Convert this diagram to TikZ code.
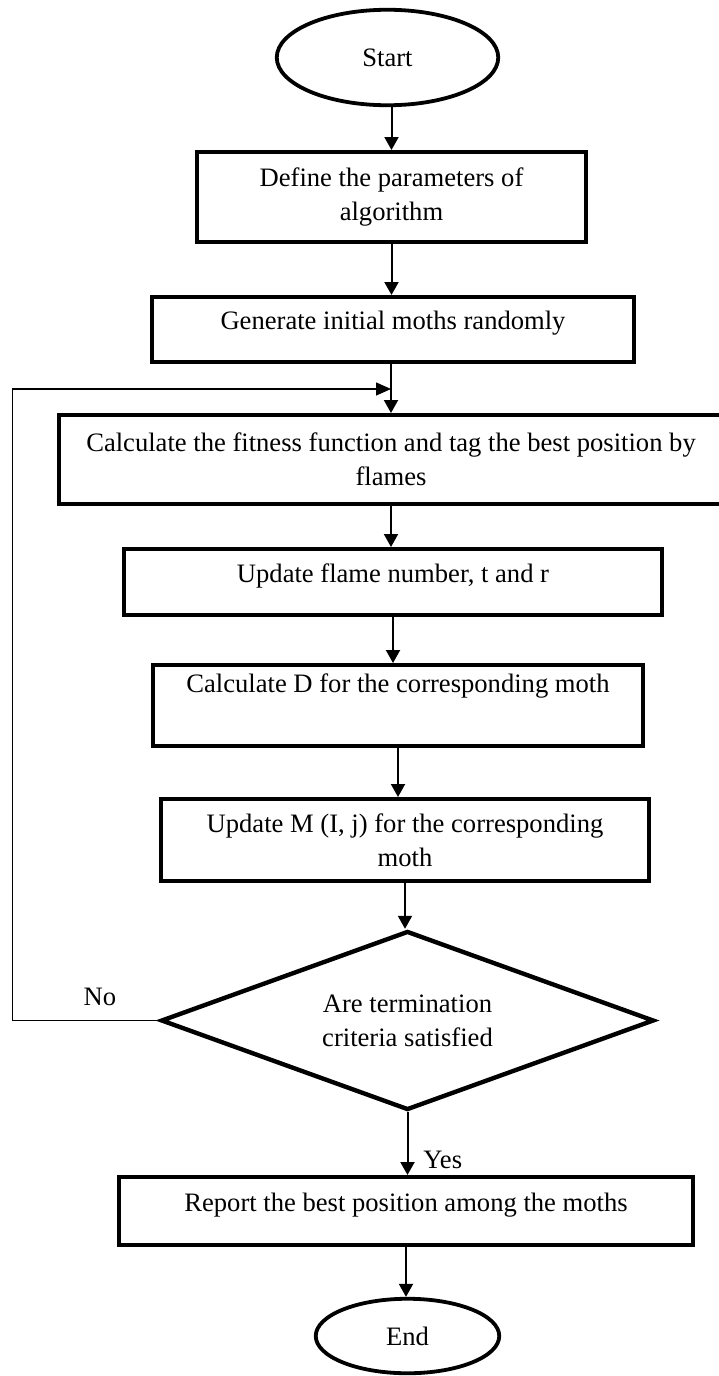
\documentclass[tikz,border=0pt]{standalone}
\usepackage{fontspec}
\setmainfont{Liberation Serif}
\usetikzlibrary{shapes.geometric,arrows.meta}

\begin{document}
\begin{tikzpicture}[x=0.5pt,y=-0.5pt]
\tikzstyle{txt}=[font=\fontsize{13.3pt}{17pt}\selectfont]
\tikzstyle{procbox}=[rectangle,draw,line width=2.2pt,fill=white,align=center,txt]
\tikzstyle{onebox}=[procbox,text height=9pt,text depth=9pt]
\tikzstyle{term}=[ellipse,draw,line width=1.9pt,fill=white,txt]
\tikzstyle{decide}=[diamond,draw,line width=2.2pt,aspect=2.75,align=center,txt]
\tikzstyle{arr}=[line width=1pt,-{Triangle[length=6.5pt,width=7pt]}]
\tikzstyle{loopline}=[line width=0.7pt]
\tikzstyle{lbl}=[txt,inner sep=0pt]
\useasboundingbox (0,0) rectangle (718,1376);
\node [term,minimum width=110.75pt,minimum height=47.75pt] (start) at (387.5,57.5) {Start};
\node [procbox,minimum width=194.3pt,minimum height=44.8pt] (b1) at (391.5,197) {Define the parameters of\\algorithm};
\node [onebox,minimum width=240.8pt,minimum height=32.3pt] (b2) at (393,329.5) {Generate initial moths randomly};
\node [procbox,minimum width=331.8pt,minimum height=44.3pt] (b3) at (391,459.5) {Calculate the fitness function and tag the best position by\\flames};
\node [onebox,minimum width=268.8pt,minimum height=32.8pt] (b4) at (393,582) {Update flame number, t and r};
\node [procbox,minimum width=244.8pt,minimum height=40.3pt] (b5) at (398,705.5) {Calculate D for the corresponding moth\\ \strut};
\node [procbox,minimum width=243.8pt,minimum height=40.8pt] (b6) at (405,840) {Update M (I, j) for the corresponding\\moth};
\node [decide,minimum width=246.5pt,minimum height=89.5pt] (dec) at (407.5,1020.5) {Are termination\\criteria satisfied};
\node [lbl] (no) at (100,997) {No};
\node [lbl,anchor=base west] (yes) at (423,1168) {Yes};
\node [onebox,minimum width=286.8pt,minimum height=33.8pt] (b7) at (406,1211) {Report the best position among the moths};
\node [term,minimum width=91.75pt,minimum height=37.25pt] (stop) at (407.5,1336) {End};
\coordinate (turn) at (12.5,389);
\draw[arr] (b1.north |- start.south) -- (b1.north);
\draw[arr] (b1.south) -- (b1.south |- b2.north);
\draw[arr] (b3.north |- b2.south) -- (b3.north);
\draw[arr] (b3.south) -- (b3.south |- b4.north);
\draw[arr] (b4.south) -- (b4.south |- b5.north);
\draw[arr] (b5.south) -- (b5.south |- b6.north);
\draw[arr] (b6.south) -- (b6.south |- dec.north);
\draw[arr] (dec.south) -- (dec.south |- b7.north);
\draw[arr] (b7.south) -- (b7.south |- stop.north);
\draw[loopline,-{Triangle[length=7.5pt,width=6.5pt]}] (dec.west) -| (turn) -- (turn -| b3.north);
\end{tikzpicture}
\end{document}
